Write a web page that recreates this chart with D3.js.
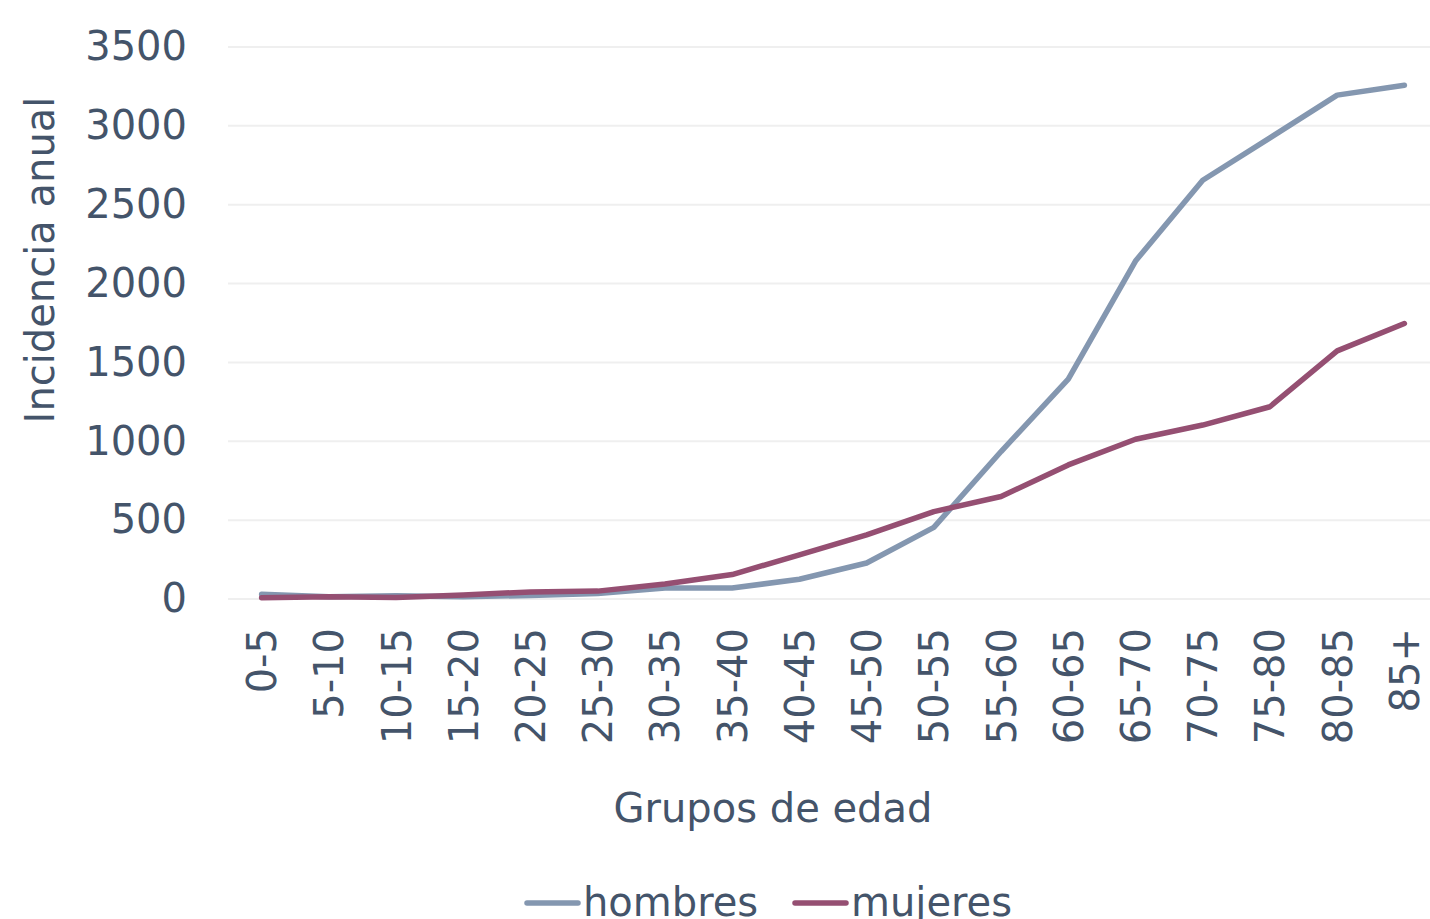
<!DOCTYPE html>
<html>
<head>
<meta charset="utf-8">
<script src="https://cdnjs.cloudflare.com/ajax/libs/d3/7.8.5/d3.min.js"></script>
<style>
  body { margin: 0; background: #fff; }
  svg text { font-family: "DejaVu Sans", sans-serif; }
</style>
</head>
<body>
<svg width="1430" height="919"></svg>
<script>
// grupos de edad
var grupos = ['0-5', '5-10', '10-15', '15-20', '20-25', '25-30', '30-35', '35-40', '40-45',
  '45-50', '50-55', '55-60', '60-65', '65-70', '70-75', '75-80', '80-85', '85+']
var hombres = [30, 15, 20, 15, 22, 35, 70, 70, 125, 228, 454, 935, 1394, 2143, 2655, 2924, 3195, 3258]
var mujeres = [8, 15, 10, 25, 45, 50, 95, 155, 280, 407, 554, 650, 850, 1013, 1103, 1219, 1573, 1747]
var yTicks = [0, 500, 1000, 1500, 2000, 2500, 3000, 3500]

var series = [
  { name: 'hombres', values: hombres, color: '#8497b0' },
  { name: 'mujeres', values: mujeres, color: '#954f72' }
]

var textColor = '#44546a'
var svg = d3.select('svg')
var margin = { top: 47, right: -8, bottom: 320, left: 228 }
var width = 1430 - margin.left - margin.right
var height = 919 - margin.top - margin.bottom

var g = svg.append('g')
  .attr('transform', 'translate(' + margin.left + ',' + margin.top + ')')

var x = d3.scalePoint().domain(grupos).range([0, width]).padding(0.5)
var y = d3.scaleLinear().domain([0, 3500]).range([height, 0])

// grid
g.append('g')
  .selectAll('line')
  .data(yTicks)
  .enter().append('line')
  .attr('x1', 0)
  .attr('x2', width)
  .attr('y1', d => y(d))
  .attr('y2', d => y(d))
  .attr('stroke', '#efefef')
  .attr('stroke-width', 2)

var yAxis = g.append('g')
  .call(d3.axisLeft(y).tickValues(yTicks).tickFormat(d3.format('d')).tickSize(0).tickPadding(41))
yAxis.select('.domain').remove()
yAxis.selectAll('text')
  .attr('fill', textColor)
  .style('font-family', '"DejaVu Sans", sans-serif')
  .style('font-size', '40px')

var xAxis = g.append('g')
  .attr('transform', 'translate(0,' + height + ')')
  .call(d3.axisBottom(x).tickSize(0))
xAxis.select('.domain').remove()
xAxis.selectAll('text')
  .attr('fill', textColor)
  .style('font-family', '"DejaVu Sans", sans-serif')
  .style('font-size', '40px')
  .attr('transform', 'rotate(-90)')
  .attr('text-anchor', 'end')
  .attr('x', -29)
  .attr('y', 0)
  .attr('dy', '0.35em')

var line = d3.line()
  .x((d, i) => x(grupos[i]))
  .y(d => y(d))

g.selectAll('.serie')
  .data(series)
  .enter().append('path')
  .attr('class', 'serie')
  .attr('fill', 'none')
  .attr('stroke', d => d.color)
  .attr('stroke-width', 5.5)
  .attr('stroke-linejoin', 'round')
  .attr('stroke-linecap', 'round')
  .attr('d', d => line(d.values))

// titles
svg.append('text')
  .attr('transform', 'translate(54,260) rotate(-90)')
  .attr('text-anchor', 'middle')
  .attr('fill', textColor)
  .style('font-size', '40px')
  .text('Incidencia anual')

svg.append('text')
  .attr('x', 773)
  .attr('y', 822)
  .attr('text-anchor', 'middle')
  .attr('fill', textColor)
  .style('font-size', '40px')
  .text('Grupos de edad')

// legend
var legend = svg.append('g')
var lx = [527, 795]
series.forEach(function (s, i) {
  legend.append('line')
    .attr('x1', lx[i]).attr('x2', lx[i] + 51)
    .attr('y1', 903).attr('y2', 903)
    .attr('stroke', s.color)
    .attr('stroke-width', 5.5)
    .attr('stroke-linecap', 'round')
  legend.append('text')
    .attr('x', lx[i] + 56)
    .attr('y', 916)
    .attr('fill', textColor)
    .style('font-size', '40px')
    .text(s.name)
})
</script>
</body>
</html>
